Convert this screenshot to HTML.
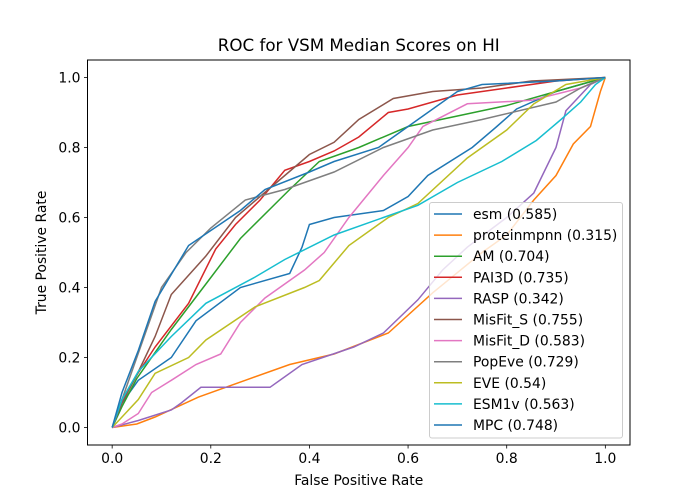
<!DOCTYPE html>
<html><head><meta charset="utf-8"><style>
body{margin:0;background:#fff;}
svg{display:block;font-family:"DejaVu Sans","Liberation Sans",sans-serif;}
</style></head><body>
<svg id="chart" width="700" height="500" viewBox="0 0 700 500">
<rect x="0" y="0" width="700" height="500" fill="#fff"/>
<text x="358.75" y="51" text-anchor="middle" font-size="16.7">ROC for VSM Median Scores on HI</text>
<g id="plot"></g>
<rect x="87.5" y="60" width="542.5" height="385" fill="none" stroke="#000" stroke-width="1"/>
<g id="xticks"></g><g id="yticks"></g>
<text x="358.75" y="485" text-anchor="middle" font-size="13.9">False Positive Rate</text>
<text transform="translate(46,252.5) rotate(-90)" text-anchor="middle" font-size="13.9">True Positive Rate</text>
<g id="legend"></g>
</svg>
<script>
const seriesNames=["esm (0.585)","proteinmpnn (0.315)","AM (0.704)","PAI3D (0.735)","RASP (0.342)","MisFit_S (0.755)","MisFit_D (0.583)","PopEve (0.729)","EVE (0.54)","ESM1v (0.563)","MPC (0.748)"];
const seriesColors=["#1f77b4","#ff7f0e","#2ca02c","#d62728","#9467bd","#8c564b","#e377c2","#7f7f7f","#bcbd22","#17becf","#1f77b4"];
const esmFpr=[0,0.02,0.053,0.12,0.17,0.26,0.36,0.385,0.4,0.45,0.55,0.6,0.64,0.73,0.78,0.82,0.9,1];
const esmTpr=[0,0.07,0.135,0.2,0.305,0.4,0.44,0.515,0.58,0.6,0.62,0.66,0.72,0.8,0.86,0.91,0.96,1];
const pmFpr=[0,0.05,0.087,0.175,0.27,0.36,0.45,0.56,0.65,0.75,0.8,0.855,0.9,0.935,0.97,0.99,1];
const pmTpr=[0,0.01,0.03,0.087,0.135,0.18,0.21,0.27,0.385,0.5,0.55,0.65,0.72,0.81,0.86,0.96,1];
const amFpr=[0,0.02,0.05,0.12,0.19,0.26,0.36,0.42,0.5,0.6,0.7,0.8,0.9,1];
const amTpr=[0,0.06,0.14,0.28,0.41,0.54,0.68,0.76,0.8,0.86,0.89,0.92,0.96,1];
const paiFpr=[0,0.02,0.05,0.087,0.155,0.21,0.25,0.3,0.35,0.4,0.45,0.5,0.56,0.6,0.7,0.8,0.9,1];
const paiTpr=[0,0.08,0.15,0.23,0.355,0.51,0.58,0.65,0.735,0.76,0.79,0.83,0.9,0.91,0.95,0.97,0.99,1];
const raspFpr=[0,0.053,0.12,0.14,0.18,0.32,0.385,0.49,0.55,0.62,0.67,0.72,0.8,0.855,0.9,0.92,0.97,1];
const raspTpr=[0,0.02,0.05,0.07,0.115,0.115,0.18,0.23,0.27,0.365,0.45,0.515,0.6,0.67,0.8,0.905,0.98,1];
const msFpr=[0,0.02,0.05,0.087,0.12,0.19,0.25,0.3,0.35,0.4,0.45,0.5,0.57,0.65,0.75,0.85,1];
const msTpr=[0,0.07,0.15,0.26,0.38,0.49,0.6,0.66,0.72,0.78,0.815,0.88,0.94,0.96,0.97,0.99,1];
const mdFpr=[0,0.02,0.053,0.08,0.12,0.17,0.22,0.26,0.31,0.39,0.43,0.48,0.55,0.6,0.63,0.72,0.85,0.95,1];
const mdTpr=[0,0.01,0.04,0.1,0.135,0.18,0.21,0.3,0.37,0.45,0.5,0.6,0.72,0.8,0.86,0.925,0.935,0.97,1];
const peFpr=[0,0.02,0.05,0.1,0.15,0.2,0.27,0.35,0.45,0.55,0.65,0.75,0.9,0.95,1];
const peTpr=[0,0.08,0.2,0.4,0.5,0.57,0.65,0.68,0.73,0.8,0.85,0.88,0.93,0.97,1];
const eveFpr=[0,0.02,0.053,0.087,0.155,0.19,0.29,0.39,0.42,0.48,0.56,0.62,0.72,0.8,0.855,0.92,1];
const eveTpr=[0,0.03,0.08,0.155,0.2,0.25,0.345,0.4,0.42,0.52,0.6,0.64,0.77,0.85,0.925,0.98,1];
const e1Fpr=[0,0.02,0.053,0.12,0.19,0.29,0.35,0.45,0.55,0.62,0.7,0.79,0.86,0.91,0.95,0.98,1];
const e1Tpr=[0,0.08,0.16,0.26,0.355,0.43,0.48,0.55,0.6,0.635,0.7,0.76,0.82,0.88,0.93,0.98,1];
const mpcFpr=[0,0.02,0.053,0.087,0.155,0.26,0.31,0.4,0.45,0.54,0.6,0.63,0.7,0.75,0.9,1];
const mpcTpr=[0,0.1,0.22,0.36,0.52,0.62,0.68,0.73,0.76,0.8,0.86,0.89,0.96,0.98,0.99,1];
const xTicks=[0,0.2,0.4,0.6,0.8,1.0];
const yTicks=[0,0.2,0.4,0.6,0.8,1.0];
const allFpr=[esmFpr,pmFpr,amFpr,paiFpr,raspFpr,msFpr,mdFpr,peFpr,eveFpr,e1Fpr,mpcFpr];
const allTpr=[esmTpr,pmTpr,amTpr,paiTpr,raspTpr,msTpr,mdTpr,peTpr,eveTpr,e1Tpr,mpcTpr];

const NS="http://www.w3.org/2000/svg";
function xs(v){return 87.5+542.5*(v+0.05)/1.1;}
function ys(v){return 445-385*(v+0.05)/1.1;}
function mk(tag,attrs,parent){const e=document.createElementNS(NS,tag);for(const k in attrs)e.setAttribute(k,attrs[k]);parent.appendChild(e);return e;}

const plot=document.getElementById('plot');
allFpr.forEach((f,i)=>{
  const pts=f.map((v,j)=>xs(v).toFixed(1)+','+ys(allTpr[i][j]).toFixed(1)).join(' ');
  const pl=mk('polyline',{points:pts,fill:'none',stroke:seriesColors[i],'stroke-width':1.5,'stroke-linejoin':'miter'},plot);
  
  
});
const xg=document.getElementById('xticks');
xTicks.forEach(t=>{
  const l=mk('line',{x1:xs(t),x2:xs(t),y1:445,y2:448.5,stroke:'#000','stroke-width':0.8},xg);
  
  
  const tx=mk('text',{x:xs(t),y:463,'text-anchor':'middle','font-size':13.9},xg);
  tx.textContent=t.toFixed(1);
  
  
});
const yg=document.getElementById('yticks');
yTicks.forEach(t=>{
  const l=mk('line',{x1:84,x2:87.5,y1:ys(t),y2:ys(t),stroke:'#000','stroke-width':0.8},yg);
  
  
  const tx=mk('text',{x:80.5,y:ys(t)+5,'text-anchor':'end','font-size':13.9},yg);
  tx.textContent=t.toFixed(1);
  
  
});
const lg=document.getElementById('legend');


const box=mk('rect',{x:429.5,y:202.5,width:193,height:235.5,rx:2.5,fill:'#fff','fill-opacity':0.8,stroke:'#ccc','stroke-width':1},lg);


seriesNames.forEach((n,i)=>{
  const y=214+i*21.1;
  const g=mk('g',{},lg);
  
  
  mk('line',{x1:434,x2:462,y1:y,y2:y,stroke:seriesColors[i],'stroke-width':1.5},g);
  const t=mk('text',{x:473,y:y+5,'font-size':13.9},g);
  t.textContent=n;
});
</script>
</body></html>
